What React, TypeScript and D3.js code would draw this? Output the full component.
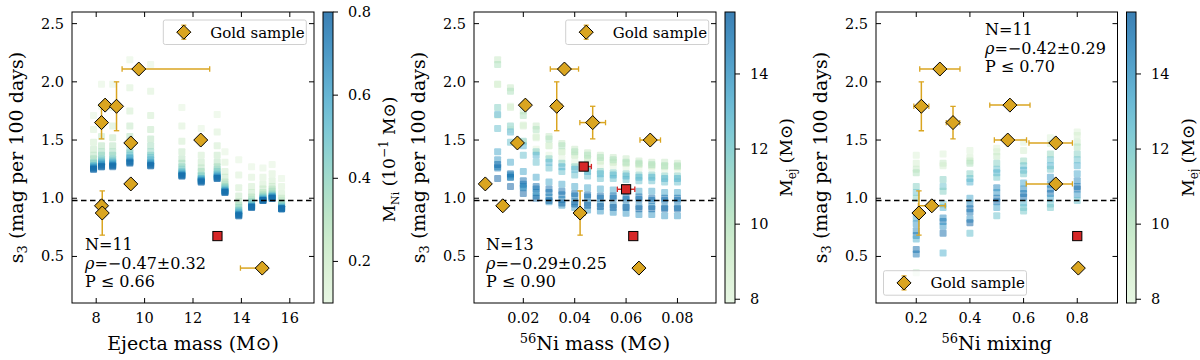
import React from "react";
import * as d3 from "d3";

// model grid: ejecta masses (Msun) x nickel masses (1e-1 Msun), s3 read per column
const MEJ_GRID = [7.89, 8.22, 8.68, 9.39, 10.25, 11.54, 12.34, 13.0, 13.32, 13.89, 14.42, 14.89, 15.27, 15.66];
const NI_GRID = [0.1, 0.15, 0.2, 0.25, 0.3, 0.35, 0.4, 0.45, 0.5, 0.55, 0.6, 0.65, 0.7, 0.75, 0.8];
const S3_GRID = [
  [1.71, 1.59, 1.48, 1.42, 1.37, 1.34, 1.31, 1.3, 1.28, 1.28, 1.27, 1.26, 1.26, 1.25, 1.25],
  [1.98, 1.79, 1.63, 1.53, 1.45, 1.4, 1.37, 1.34, 1.32, 1.31, 1.3, 1.29, 1.28, 1.27, 1.27],
  [1.98, 1.78, 1.62, 1.52, 1.45, 1.4, 1.37, 1.34, 1.32, 1.31, 1.3, 1.29, 1.28, 1.28, 1.27],
  [2.19, 1.95, 1.75, 1.62, 1.53, 1.47, 1.42, 1.39, 1.37, 1.35, 1.34, 1.32, 1.31, 1.31, 1.3],
  [2.15, 1.92, 1.71, 1.59, 1.51, 1.45, 1.4, 1.37, 1.35, 1.33, 1.31, 1.3, 1.29, 1.28, 1.28],
  [1.78, 1.62, 1.49, 1.4, 1.34, 1.3, 1.27, 1.25, 1.23, 1.22, 1.21, 1.2, 1.2, 1.19, 1.19],
  [1.6, 1.48, 1.37, 1.31, 1.26, 1.23, 1.2, 1.19, 1.17, 1.17, 1.16, 1.15, 1.15, 1.14, 1.14],
  [1.72, 1.57, 1.45, 1.37, 1.31, 1.27, 1.25, 1.23, 1.21, 1.2, 1.19, 1.18, 1.18, 1.17, 1.17],
  [1.4, 1.31, 1.23, 1.18, 1.14, 1.12, 1.1, 1.09, 1.08, 1.07, 1.06, 1.06, 1.06, 1.05, 1.05],
  [1.33, 1.2, 1.09, 1.02, 0.97, 0.94, 0.92, 0.9, 0.89, 0.88, 0.87, 0.86, 0.86, 0.85, 0.85],
  [1.27, 1.18, 1.1, 1.05, 1.01, 0.99, 0.97, 0.96, 0.95, 0.94, 0.93, 0.93, 0.93, 0.92, 0.92],
  [1.26, 1.18, 1.12, 1.08, 1.05, 1.03, 1.02, 1.01, 1.0, 1.0, 0.99, 0.99, 0.98, 0.98, 0.98],
  [1.29, 1.21, 1.15, 1.1, 1.08, 1.06, 1.04, 1.03, 1.02, 1.02, 1.01, 1.01, 1.0, 1.0, 1.0],
  [1.17, 1.1, 1.04, 1.0, 0.98, 0.96, 0.95, 0.94, 0.93, 0.92, 0.92, 0.91, 0.91, 0.91, 0.91],
];

// mixing models: one column per mixing value, s3 with the matching ejecta mass
const MIX_COLS = [0.2, 0.3, 0.4, 0.5, 0.6, 0.7, 0.8];
const MIX_S3 = [
  [1.37, 1.3, 1.25, 1.22, 1.1, 1.05, 1.0, 0.83, 0.78, 0.72, 0.68, 0.65, 0.56, 0.52, 0.36],
  [1.38, 1.3, 1.28, 1.16, 1.1, 1.06, 0.95, 0.92, 0.83, 0.8, 0.76, 0.7, 0.53],
  [1.41, 1.35, 1.32, 1.3, 1.21, 1.17, 1.14, 1.0, 0.95, 0.91, 0.88, 0.82, 0.79, 0.7],
  [1.43, 1.4, 1.36, 1.3, 1.25, 1.22, 1.18, 1.09, 1.05, 1.0, 0.97, 0.92, 0.85],
  [1.48, 1.41, 1.32, 1.28, 1.24, 1.21, 1.13, 1.08, 1.04, 1.01, 0.96, 0.92, 0.89],
  [1.52, 1.47, 1.38, 1.33, 1.28, 1.25, 1.18, 1.12, 1.08, 1.04, 1.0, 0.95, 0.92],
  [1.57, 1.54, 1.48, 1.44, 1.38, 1.33, 1.28, 1.21, 1.15, 1.1, 1.08, 1.03, 0.98],
];
const MIX_MEJ = [
  [8.2, 8.7, 9.4, 10.2, 11.5, 12.3, 11.5, 13.3, 13.9, 14.4, 14.9, 13.0, 15.3, 14.9, 10.0],
  [8.2, 9.4, 8.7, 11.5, 12.3, 11.5, 12.3, 13.0, 14.4, 14.9, 13.9, 15.3, 13.0],
  [8.2, 8.7, 9.4, 10.2, 11.5, 12.3, 13.0, 13.3, 14.4, 15.3, 14.9, 13.9, 15.7, 12.5],
  [8.2, 8.7, 9.4, 11.5, 12.3, 13.0, 12.0, 14.4, 13.9, 14.9, 15.3, 13.3, 12.3],
  [8.2, 8.7, 11.0, 12.3, 13.0, 12.0, 13.3, 14.4, 14.9, 15.3, 13.0, 12.3, 12.0],
  [8.2, 8.7, 11.0, 12.3, 13.0, 12.0, 13.9, 14.4, 14.9, 15.3, 13.3, 12.3, 12.0],
  [8.2, 8.7, 9.4, 10.2, 11.5, 12.3, 13.0, 13.3, 14.4, 14.9, 15.3, 13.9, 12.3],
];

// gold sample
const GOLD_S3 = [2.11, 1.8, 1.79, 1.65, 1.5, 1.475, 1.123, 0.935, 0.873, 0.4];
const GOLD_S3_ERR = [0, 0, 0.21, 0.14, 0, 0, 0, 0, 0.19, 0];
const GOLD_MEJ = [9.76, 8.37, 8.84, 8.22, 12.32, 9.43, 9.43, 8.22, 8.25, 14.86];
const GOLD_MEJ_LO = [0.69, 0, 0, 0, 0, 0, 0, 0, 0, 0.9];
const GOLD_MEJ_HI = [2.93, 0, 0, 0, 0, 0, 0, 0, 0, 0.2];
const GOLD_NI = [0.036, 0.0208, 0.033, 0.047, 0.0694, 0.0177, 0.0052, 0.012, 0.0421, 0.065];
const GOLD_NI_ERR = [0.0055, 0, 0.002, 0.005, 0.004, 0, 0, 0, 0.002, 0];
const GOLD_MIX = [0.288, 0.549, 0.219, 0.337, 0.541, 0.72, 0.72, 0.258, 0.21, 0.804];
const GOLD_MIX_LO = [0.075, 0.075, 0.028, 0.025, 0.05, 0.1, 0.11, 0.05, 0, 0];
const GOLD_MIX_HI = [0.075, 0.075, 0.028, 0.025, 0.07, 0.062, 0.062, 0.05, 0, 0];

// other objects (red squares)
const RED_S3 = [1.272, 1.077, 0.675];
const RED_NI = [0.0435, 0.06, 0.0628];
const RED_NI_LO = [0.0005, 0.0034, 0];
const RED_NI_HI = [0.003, 0.0034, 0];
const RED_MEJ = [NaN, NaN, 13.01];
const RED_MIX = [NaN, NaN, 0.8];

const STATS_MEJ = ["N=11", "−0.47±0.32", "P ≤ 0.66"];
const STATS_NI = ["N=13", "−0.29±0.25", "P ≤ 0.90"];
const STATS_MIX = ["N=11", "−0.42±0.29", "P ≤ 0.70"];

const Y_TICKS = [0.5, 1.0, 1.5, 2.0, 2.5];
const HLINE = 0.98;

const TOP = 12;
const BOTTOM = 303;
const GOLD = "#DAA520";
const RED = "#d62728";
const FONT = "DejaVu Serif, serif";

const yScale = d3.scaleLinear().domain([0.1, 2.6]).range([BOTTOM, TOP]);
const cmap = (t: number) => d3.interpolateGnBu(0.12 + 0.78 * Math.max(0, Math.min(1, t)));

type Pt = { x: number; y: number; c: number };
type Obj = { x: number; lo: number; hi: number; y: number; yerr: number };

function ErrBar({ o, xs, color }: { o: Obj; xs: any; color: string }) {
  const cx = xs(o.x), cy = yScale(o.y);
  const out: any[] = [];
  if (o.lo > 0 || o.hi > 0) {
    const a = xs(o.x - o.lo), b = xs(o.x + o.hi);
    out.push(<line key="h" x1={a} x2={b} y1={cy} y2={cy} stroke={color} strokeWidth={1.5} />);
    if (o.lo > 0) out.push(<line key="hl" x1={a} x2={a} y1={cy - 2.7} y2={cy + 2.7} stroke={color} strokeWidth={1.3} />);
    if (o.hi > 0) out.push(<line key="hh" x1={b} x2={b} y1={cy - 2.7} y2={cy + 2.7} stroke={color} strokeWidth={1.3} />);
  }
  if (o.yerr > 0) {
    const a = yScale(o.y - o.yerr), b = yScale(o.y + o.yerr);
    out.push(<line key="v" x1={cx} x2={cx} y1={a} y2={b} stroke={color} strokeWidth={1.5} />);
    out.push(<line key="vl" x1={cx - 2.7} x2={cx + 2.7} y1={a} y2={a} stroke={color} strokeWidth={1.3} />);
    out.push(<line key="vh" x1={cx - 2.7} x2={cx + 2.7} y1={b} y2={b} stroke={color} strokeWidth={1.3} />);
  }
  return <g>{out}</g>;
}

const diamond = (x: number, y: number, r: number) => `M${x},${y - r}L${x + r},${y}L${x},${y + r}L${x - r},${y}Z`;

function Panel(props: any) {
  const { id, x0, x1, cb0, cb1, xDomain, xTicks, xFmt, xLabel, cDomain, cTicks, cLabel,
    points, gold, red, legend, stats, statsPos } = props;
  const xs = d3.scaleLinear().domain(xDomain).range([x0, x1]);
  const cs = d3.scaleLinear().domain(cDomain).range([0, 1]);
  const cy = d3.scaleLinear().domain(cDomain).range([BOTTOM, TOP]);
  const off = x0 - 72;
  const cbTicksPos = cTicks.map((t: number) => cy(t));
  const stops = d3.range(0, 1.0001, 0.1);

  return (
    <g fontFamily={FONT}>
      <defs>
        <clipPath id={`clip-${id}`}>
          <rect x={x0} y={TOP} width={x1 - x0} height={BOTTOM - TOP} />
        </clipPath>
        <linearGradient id={`grad-${id}`} x1="0" y1="1" x2="0" y2="0">
          {stops.map((s: number) => (
            <stop key={s} offset={s} stopColor={cmap(s)} stopOpacity={0.8} />
          ))}
        </linearGradient>
      </defs>

      <g clipPath={`url(#clip-${id})`}>
        {points.map((p: Pt, i: number) => (
          <rect key={i} x={xs(p.x) - 3.5} y={yScale(p.y) - 3.5} width={7} height={7} rx={1}
            fill={cmap(cs(p.c))} fillOpacity={0.5} />
        ))}
        <line x1={x0} x2={x1} y1={yScale(HLINE)} y2={yScale(HLINE)} stroke="#000" strokeWidth={1.5} strokeDasharray="5.5,3.5" />
        {gold.map((o: Obj, i: number) => <ErrBar key={`ge${i}`} o={o} xs={xs} color={GOLD} />)}
        {red.map((o: Obj, i: number) => <ErrBar key={`re${i}`} o={o} xs={xs} color={RED} />)}
        {gold.map((o: Obj, i: number) => (
          <path key={`g${i}`} d={diamond(xs(o.x), yScale(o.y), 7)} fill={GOLD} stroke="#000" strokeWidth={1} />
        ))}
        {red.map((o: Obj, i: number) => (
          <rect key={`r${i}`} x={xs(o.x) - 4.6} y={yScale(o.y) - 4.6} width={9.2} height={9.2} fill={RED} stroke="#000" strokeWidth={1} />
        ))}
      </g>

      {/* axes frame and inward ticks */}
      <rect x={x0} y={TOP} width={x1 - x0} height={BOTTOM - TOP} fill="none" stroke="#000" strokeWidth={1} />
      {xTicks.map((t: number) => (
        <g key={`xt${t}`}>
          <line x1={xs(t)} x2={xs(t)} y1={BOTTOM} y2={BOTTOM - 5} stroke="#000" />
          <line x1={xs(t)} x2={xs(t)} y1={TOP} y2={TOP + 5} stroke="#000" />
          <text x={xs(t)} y={323} textAnchor="middle" fontSize={14.5}>{xFmt(t)}</text>
        </g>
      ))}
      {Y_TICKS.map((t) => (
        <g key={`yt${t}`}>
          <line x1={x0} x2={x0 + 5} y1={yScale(t)} y2={yScale(t)} stroke="#000" />
          <line x1={x1} x2={x1 - 5} y1={yScale(t)} y2={yScale(t)} stroke="#000" />
          <text x={x0 - 8} y={yScale(t) + 5} textAnchor="end" fontSize={14.5}>{t.toFixed(1)}</text>
        </g>
      ))}

      <text x={(x0 + x1) / 2} y={350} textAnchor="middle" fontSize={19}>{xLabel}</text>
      <text transform={`translate(${22.7 + off},${(TOP + BOTTOM) / 2}) rotate(-90)`} textAnchor="middle" fontSize={19}>
        s<tspan fontSize={13} dy={4}>3</tspan><tspan dy={-4}> (mag per 100 days)</tspan>
      </text>

      {/* legend */}
      <rect x={legend.x} y={legend.y} width={143} height={24.5} rx={2} fill="#fff" fillOpacity={0.8} stroke="#d0d0d0" strokeWidth={1} />
      <g>
        <line x1={legend.x + 20.5 - 7} x2={legend.x + 20.5 + 7} y1={legend.y + 12.2} y2={legend.y + 12.2} stroke={GOLD} strokeWidth={1.5} />
        <line x1={legend.x + 20.5} x2={legend.x + 20.5} y1={legend.y + 12.2 - 7} y2={legend.y + 12.2 + 7} stroke={GOLD} strokeWidth={1.5} />
        <line x1={legend.x + 18} x2={legend.x + 23} y1={legend.y + 5.2} y2={legend.y + 5.2} stroke={GOLD} strokeWidth={1.3} />
        <line x1={legend.x + 18} x2={legend.x + 23} y1={legend.y + 19.2} y2={legend.y + 19.2} stroke={GOLD} strokeWidth={1.3} />
        <path d={diamond(legend.x + 20.5, legend.y + 12.2, 7)} fill={GOLD} stroke="#000" strokeWidth={1} />
        <text x={legend.x + 47} y={legend.y + 17.5} fontSize={15}>Gold sample</text>
      </g>

      {/* correlation stats */}
      <g fontSize={16}>
        <text x={statsPos.x} y={statsPos.y}>{stats[0]}</text>
        <text x={statsPos.x} y={statsPos.y + 18.7}><tspan fontStyle="italic">ρ</tspan>={stats[1]}</text>
        <text x={statsPos.x} y={statsPos.y + 37.4}>{stats[2]}</text>
      </g>

      {/* colourbar */}
      <rect x={cb0} y={TOP} width={cb1 - cb0} height={BOTTOM - TOP} fill={`url(#grad-${id})`} />
      <rect x={cb0} y={TOP} width={cb1 - cb0} height={BOTTOM - TOP} fill="none" stroke="#000" strokeWidth={1} />
      {cTicks.map((t: number, i: number) => (
        <g key={`ct${t}`}>
          <line x1={cb1} x2={cb1 + 5} y1={cbTicksPos[i]} y2={cbTicksPos[i]} stroke="#000" />
          <text x={cb1 + 15} y={cbTicksPos[i] + 5} fontSize={14.5}>{cLabel.fmt(t)}</text>
        </g>
      ))}
      <text transform={`translate(${cLabel.x},${cLabel.cy}) rotate(-90)`} textAnchor="middle" fontSize={17}>
        {cLabel.content}
      </text>
    </g>
  );
}

export default function App() {
  const p1: Pt[] = [];
  const p2: Pt[] = [];
  MEJ_GRID.forEach((m, i) => {
    NI_GRID.forEach((n, j) => {
      p1.push({ x: m, y: S3_GRID[i][j], c: n });
      p2.push({ x: n / 10, y: S3_GRID[i][j], c: m });
    });
  });
  const p3: Pt[] = [];
  MIX_COLS.forEach((mx, i) => {
    MIX_S3[i].forEach((s, j) => p3.push({ x: mx, y: s, c: MIX_MEJ[i][j] }));
  });

  const goldMej: Obj[] = GOLD_S3.map((s, i) => ({ x: GOLD_MEJ[i], lo: GOLD_MEJ_LO[i], hi: GOLD_MEJ_HI[i], y: s, yerr: GOLD_S3_ERR[i] }));
  const goldNi: Obj[] = GOLD_S3.map((s, i) => ({ x: GOLD_NI[i], lo: GOLD_NI_ERR[i], hi: GOLD_NI_ERR[i], y: s, yerr: GOLD_S3_ERR[i] }));
  const goldMix: Obj[] = GOLD_S3.map((s, i) => ({ x: GOLD_MIX[i], lo: GOLD_MIX_LO[i], hi: GOLD_MIX_HI[i], y: s, yerr: GOLD_S3_ERR[i] }));

  const redNi: Obj[] = RED_S3.map((s, i) => ({ x: RED_NI[i], lo: RED_NI_LO[i], hi: RED_NI_HI[i], y: s, yerr: 0 }));
  const redMej: Obj[] = RED_S3.map((s, i) => ({ x: RED_MEJ[i], lo: 0, hi: 0, y: s, yerr: 0 })).filter((o) => !isNaN(o.x));
  const redMix: Obj[] = RED_S3.map((s, i) => ({ x: RED_MIX[i], lo: 0, hi: 0, y: s, yerr: 0 })).filter((o) => !isNaN(o.x));

  const mejLabel = (x: number) => ({
    x, cy: 157.5, fmt: (t: number) => String(t),
    content: (<>M<tspan fontSize={12} dy={4}>ej</tspan><tspan dy={-4}> (M⊙)</tspan></>),
  });

  return (
    <svg width={1200} height={360} style={{ position: "absolute", left: 0, top: 0, background: "#fff" }}>
      <Panel id="mej" x0={72} x1={314} cb0={323} cb1={333}
        xDomain={[7, 17]} xTicks={[8, 10, 12, 14, 16]} xFmt={(t: number) => String(t)}
        xLabel={<>Ejecta mass (M⊙)</>}
        cDomain={[0.1, 0.8]} cTicks={[0.2, 0.4, 0.6, 0.8]}
        cLabel={{
          x: 395, cy: 159.5, fmt: (t: number) => t.toFixed(1),
          content: (<>M<tspan fontSize={11} dy={4}>Ni</tspan><tspan dy={-4}> (10</tspan><tspan fontSize={12} dy={-7}>−1</tspan><tspan dy={7}> M⊙)</tspan></>),
        }}
        points={p1} gold={goldMej} red={redMej}
        legend={{ x: 163.3, y: 20 }} stats={STATS_MEJ} statsPos={{ x: 85, y: 250 }} />
      <Panel id="ni" x0={474} x1={716} cb0={725} cb1={735}
        xDomain={[0.0008, 0.095]} xTicks={[0.02, 0.04, 0.06, 0.08]} xFmt={(t: number) => t.toFixed(2)}
        xLabel={<><tspan fontSize={13} dy={-7}>56</tspan><tspan dy={7}>Ni mass (M⊙)</tspan></>}
        cDomain={[7.9, 15.65]} cTicks={[8, 10, 12, 14]} cLabel={mejLabel(792)}
        points={p2} gold={goldNi} red={redNi}
        legend={{ x: 565.7, y: 20 }} stats={STATS_NI} statsPos={{ x: 486, y: 250 }} />
      <Panel id="mix" x0={876} x1={1117.5} cb0={1126.5} cb1={1136}
        xDomain={[0.05, 0.95]} xTicks={[0.2, 0.4, 0.6, 0.8]} xFmt={(t: number) => t.toFixed(1)}
        xLabel={<><tspan fontSize={13} dy={-7}>56</tspan><tspan dy={7}>Ni mixing</tspan></>}
        cDomain={[7.9, 15.65]} cTicks={[8, 10, 12, 14]} cLabel={mejLabel(1193.5)}
        points={p3} gold={goldMix} red={redMix}
        legend={{ x: 883.5, y: 270.7 }} stats={STATS_MIX} statsPos={{ x: 985, y: 35 }} />
    </svg>
  );
}
